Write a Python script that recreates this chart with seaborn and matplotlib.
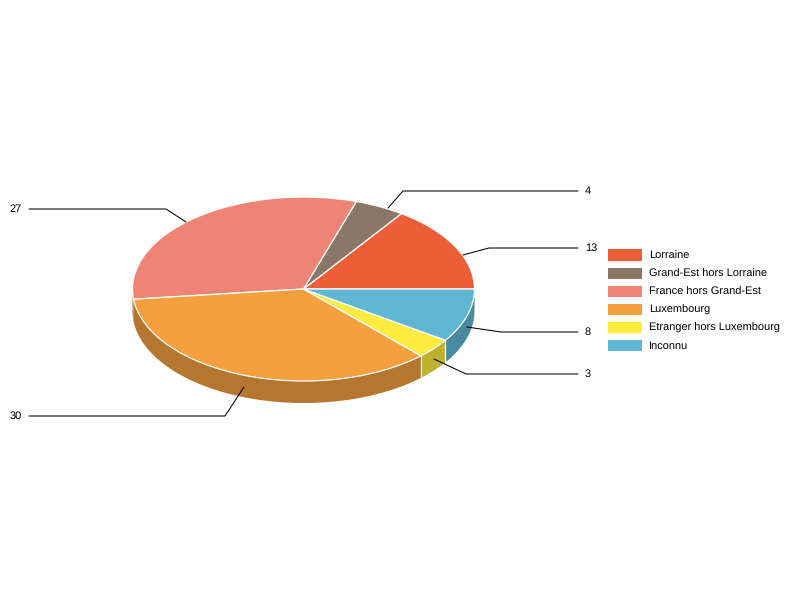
import numpy as np
import matplotlib
matplotlib.use('Agg')
import matplotlib.pyplot as plt
from matplotlib.patches import Patch
import seaborn as sns

categories = ['Lorraine', 'Grand-Est hors Lorraine', 'France hors Grand-Est',
              'Luxembourg', 'Etranger hors Luxembourg', 'Inconnu']
values = [13, 4, 27, 30, 3, 8]
top_colors = ['#EB5E37', '#8A7767', '#EE8475', '#F5A03F', '#FFEC3F', '#60B7D4']
side_colors = ['#B04629', '#67594D', '#B5762F', '#B5762F', '#BFB130', '#488A9F']

# pie geometry in pixels
CX, CY, RX, RY, DEPTH = 303.5, 289, 171, 92, 22


def ux(px):
    return (px - CX) / RX


def uy(py):
    return (CY - py) / RY


# leader lines, in pixels: anchor, elbow, end
leaders = [
    [(463, 255), (489, 248), (578, 248)],
    [(388, 208), (403, 191), (578, 191)],
    [(186, 222), (166, 209), (29, 209)],
    [(244, 387), (225, 416), (29, 416)],
    [(434, 359), (466, 374), (578, 374)],
    [(467, 327), (501, 332), (578, 332)],
]

sns.set_theme(style='white')
plt.rcParams['font.family'] = ['Liberation Sans', 'DejaVu Sans']
plt.rcParams['text.hinting'] = 'none'
plt.rcParams['text.hinting_factor'] = 1

fig = plt.figure(figsize=(8, 6), dpi=100)
ax = fig.add_axes([0, 0, 1, 1])

# side walls, only the front half of the pie shows
edges = np.cumsum([0] + values) / sum(values) * 360
d = DEPTH / RY
for i in range(len(values)):
    a0 = max(edges[i], 180)
    a1 = edges[i + 1]
    if a1 <= a0:
        continue
    t = np.radians(np.linspace(a0, a1, 100))
    xs = np.concatenate([np.cos(t), np.cos(t[::-1])])
    ys = np.concatenate([np.sin(t), np.sin(t[::-1]) - d])
    ax.fill(xs, ys, color=side_colors[i], lw=0, zorder=1)
    # white seam only between the slices facing the viewer
    if a0 == edges[i] and a0 > 200:
        c, s = np.cos(t[0]), np.sin(t[0])
        ax.plot([c, c], [s, s - d], color='white', lw=0.9, zorder=2)

wedges, _ = ax.pie(values, colors=top_colors, startangle=0, counterclock=True,
                   radius=1, wedgeprops={'edgecolor': 'white', 'linewidth': 0.9})
for w in wedges:
    w.set_zorder(3)

ax.set_aspect('auto')
ax.set_xlim(ux(0), ux(800))
ax.set_ylim(uy(600), uy(0))
ax.axis('off')

# leader lines and value labels
for val, pts in zip(values, leaders):
    ax.plot([ux(p[0]) for p in pts], [uy(p[1]) for p in pts],
            color='black', lw=0.75, zorder=4, solid_joinstyle='miter')
    end = pts[-1]
    if end[0] > CX:
        ax.text(ux(end[0] + 7), uy(end[1]), str(val), ha='left', va='center',
                fontsize=7.9, color='black')
    else:
        ax.text(ux(end[0] - 7), uy(end[1]), str(val), ha='right', va='center',
                fontsize=7.9, color='black')

handles = [Patch(facecolor=c, edgecolor='none') for c in top_colors]
ax.legend(handles, categories, loc='upper left',
          bbox_to_anchor=(608 / 800, 1 - 249.5 / 600), bbox_transform=fig.transFigure,
          frameon=False, fontsize=7.9, borderpad=0, borderaxespad=0,
          handlelength=3.1, handleheight=1.25, handletextpad=0.62, labelspacing=0.57,
          labelcolor='black')

fig.savefig('out.png', dpi=100)
